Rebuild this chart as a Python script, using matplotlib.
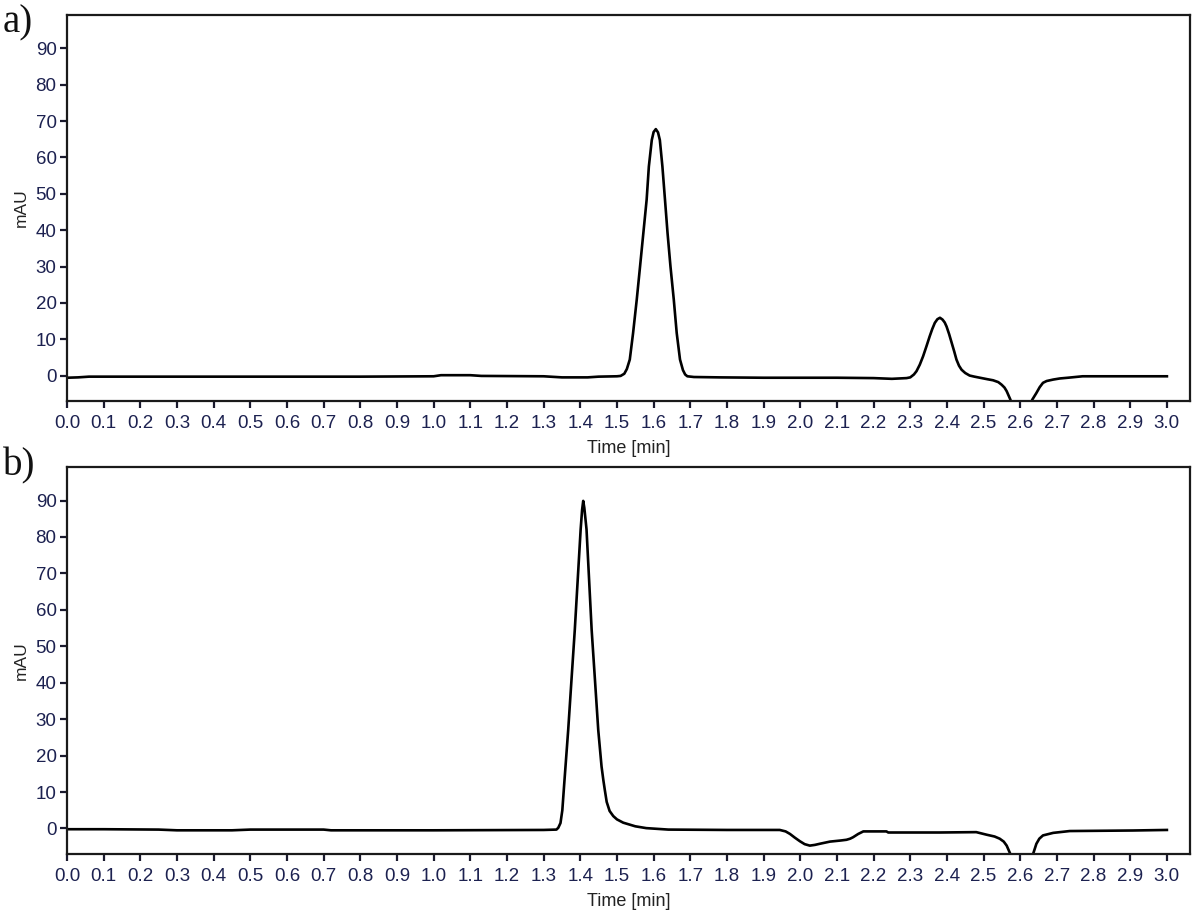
import matplotlib
matplotlib.use("Agg")
import matplotlib.pyplot as plt

# ---------------- data ----------------
time_a = [0.000, 0.030, 0.060, 0.200, 0.500, 0.800, 1.000, 1.020, 1.100, 1.130,
          1.300, 1.350, 1.420, 1.450, 1.500, 1.510, 1.520, 1.527, 1.535, 1.544,
          1.554, 1.563, 1.572, 1.581, 1.587, 1.595, 1.600, 1.606, 1.612, 1.617,
          1.624, 1.631, 1.638, 1.646, 1.655, 1.663, 1.672, 1.680, 1.686, 1.692,
          1.710, 1.780, 1.900, 2.100, 2.200, 2.250, 2.290, 2.300, 2.310, 2.317,
          2.326, 2.335, 2.344, 2.353, 2.360, 2.367, 2.374, 2.381, 2.388, 2.394,
          2.399, 2.406, 2.413, 2.420, 2.426, 2.433, 2.440, 2.450, 2.462, 2.475,
          2.490, 2.510, 2.526, 2.540, 2.549, 2.557, 2.563, 2.573, 2.582, 2.600,
          2.620, 2.633, 2.644, 2.653, 2.662, 2.672, 2.690, 2.708, 2.730, 2.770,
          2.900, 3.000]
mau_a = [-0.6, -0.5, -0.3, -0.3, -0.3, -0.3, -0.2, 0.1, 0.1, -0.1,
         -0.2, -0.5, -0.5, -0.3, -0.2, -0.1, 0.5, 1.8, 4.4, 11.7,
         20.9, 30.0, 39.2, 48.4, 57.5, 64.8, 67.0, 67.8, 66.9, 64.8,
         57.5, 48.4, 39.2, 30.0, 20.9, 11.7, 4.4, 1.5, 0.3, -0.2,
         -0.4, -0.5, -0.6, -0.6, -0.7, -0.9, -0.7, -0.5, 0.3, 1.2,
         3.0, 5.3, 8.0, 10.8, 12.8, 14.5, 15.5, 15.9, 15.4, 14.6,
         13.5, 11.4, 9.0, 6.6, 4.4, 2.7, 1.6, 0.7, 0.0, -0.3,
         -0.6, -1.0, -1.3, -1.8, -2.5, -3.3, -4.3, -6.6, -9.5, -11.0,
         -9.5, -6.6, -4.8, -3.2, -2.0, -1.5, -1.1, -0.8, -0.6, -0.2,
         -0.2, -0.2]

time_b = [0.000, 0.100, 0.250, 0.300, 0.450, 0.500, 0.700, 0.720, 1.000, 1.300,
          1.335, 1.340, 1.346, 1.351, 1.356, 1.367, 1.376, 1.385, 1.393, 1.401,
          1.405, 1.408, 1.411, 1.417, 1.424, 1.431, 1.440, 1.449, 1.458, 1.463,
          1.467, 1.472, 1.480, 1.490, 1.500, 1.517, 1.550, 1.580, 1.640, 1.800,
          1.944, 1.960, 1.972, 1.985, 1.999, 2.012, 2.026, 2.040, 2.053, 2.081,
          2.110, 2.126, 2.136, 2.144, 2.158, 2.172, 2.235, 2.240, 2.380, 2.480,
          2.508, 2.530, 2.544, 2.555, 2.563, 2.573, 2.585, 2.605, 2.625, 2.635,
          2.644, 2.652, 2.662, 2.690, 2.735, 2.907, 3.000]
mau_b = [-0.2, -0.2, -0.3, -0.5, -0.5, -0.3, -0.3, -0.5, -0.5, -0.4,
         -0.3, 0.2, 1.5, 5.0, 12.0, 27.0, 40.8, 54.5, 68.3, 82.1,
         87.5, 89.9, 88.0, 82.1, 68.3, 54.5, 40.8, 27.0, 17.0, 13.2,
         10.5, 7.3, 4.8, 3.4, 2.5, 1.6, 0.6, 0.1, -0.3, -0.4,
         -0.4, -0.8, -1.5, -2.5, -3.5, -4.3, -4.7, -4.5, -4.2, -3.6,
         -3.3, -3.1, -2.8, -2.4, -1.5, -0.8, -0.8, -1.1, -1.1, -1.0,
         -1.7, -2.2, -2.8, -3.6, -4.7, -7.0, -10.0, -11.0, -10.0, -7.0,
         -4.2, -2.8, -1.9, -1.2, -0.7, -0.55, -0.4]

x_ticks = [round(0.1 * i, 1) for i in range(31)]
x_tick_labels = ["%.1f" % v for v in x_ticks]
y_ticks = [0, 10, 20, 30, 40, 50, 60, 70, 80, 90]
panel_labels = ["a)", "b)"]

# ---------------- style ----------------
plt.rcParams['font.family'] = ['Liberation Sans', 'DejaVu Sans']
tick_color = '#1c2150'
W, H = 1200, 917
fig = plt.figure(figsize=(W / 100, H / 100), dpi=100)

axes_px = [(67, 15, 1190, 401), (67, 467, 1190, 854)]
series = [(time_a, mau_a), (time_b, mau_b)]
label_base = [32, 475]

for (l, t, r, b), (tx, ty), lab, lb in zip(axes_px, series, panel_labels, label_base):
    ax = fig.add_axes([l / W, 1 - b / H, (r - l) / W, (b - t) / H])
    ax.plot(tx, ty, color='black', lw=1.9, solid_joinstyle='round')
    ax.set_xlim(0, 3.063)
    ax.set_ylim(-7.0, 99.2)
    ax.set_xticks(x_ticks)
    ax.set_xticklabels(x_tick_labels)
    ax.set_yticks(y_ticks)
    ax.tick_params(axis='both', direction='out', length=5, width=1.6,
                   color='#1a1a2e', labelcolor=tick_color, labelsize=13.5)
    ax.tick_params(axis='x', pad=5)
    ax.tick_params(axis='y', pad=2.5)
    for s in ax.spines.values():
        s.set_linewidth(1.6)
        s.set_color('#1a1a1a')
    ax.set_xlabel('Time [min]', fontsize=13, color='#222222', labelpad=6)
    ax.set_ylabel('mAU', fontsize=12.5, color='#222222', labelpad=5)
    fig.text(3 / W, 1 - lb / H, lab, family='Liberation Serif', fontsize=28,
             va='baseline', ha='left', color='#111111')

fig.savefig('out.png', dpi=100)
